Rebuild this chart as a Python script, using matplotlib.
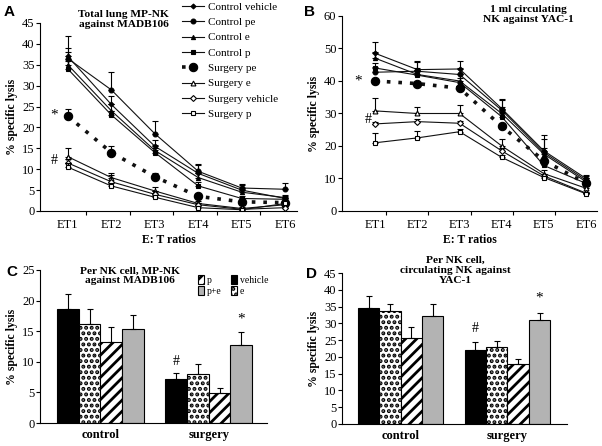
import numpy as np
import matplotlib
matplotlib.use('Agg')
import matplotlib.pyplot as plt

plt.rcParams['font.family'] = ['Liberation Serif', 'DejaVu Serif']
plt.rcParams['hatch.linewidth'] = 2.0

# ---- data -----------------------------------------------------------
et_labels = ['ET1', 'ET2', 'ET3', 'ET4', 'ET5', 'ET6']
series_names = ['Control vehicle', 'Control pe', 'Control e', 'Control p',
                'Surgery pe', 'Surgery e', 'Surgery vehicle', 'Surgery p']

# panel A: total lung MP-NK against MADB106
a_ctrl_vehicle = [37.0, 25.5, 15.5, 9.0, 5.0, 3.0]
a_ctrl_pe = [36.5, 29.0, 18.5, 9.5, 5.5, 5.2]
a_ctrl_e = [35.0, 24.0, 14.5, 8.0, 4.5, 3.2]
a_ctrl_p = [34.0, 23.0, 14.0, 6.0, 3.0, 2.8]
a_surg_pe = [22.7, 14.0, 8.2, 3.5, 2.2, 2.0]
a_surg_e = [13.0, 8.0, 4.8, 1.8, 0.6, 1.5]
a_surg_vehicle = [11.5, 7.0, 4.0, 1.5, 0.4, 0.8]
a_surg_p = [10.5, 6.0, 3.3, 0.8, 0.3, 1.8]
a_err = [[5.0, 2.0, 1.5, 2.0, 1.2, 0.8],
         [2.5, 4.2, 3.0, 1.8, 1.0, 1.6],
         [3.0, 1.5, 1.2, 1.2, 0.8, 0.5],
         [2.0, 1.0, 1.0, 1.0, 0.6, 0.5],
         [1.8, 1.5, 1.0, 0.5, 0.4, 0.3],
         [2.0, 1.2, 1.0, 0.5, 0.3, 0.3],
         [1.0, 1.5, 0.8, 0.5, 0.3, 0.3],
         [1.0, 0.8, 0.5, 0.4, 0.2, 0.3]]

# panel B: 1 ml circulating NK against YAC-1
b_ctrl_vehicle = [48.5, 43.5, 43.7, 31.5, 18.5, 10.0]
b_ctrl_pe = [42.7, 43.0, 42.0, 31.0, 18.0, 9.5]
b_ctrl_e = [47.0, 42.0, 40.0, 30.0, 17.5, 9.0]
b_ctrl_p = [44.0, 41.8, 39.5, 29.0, 14.0, 8.5]
b_surg_pe = [40.0, 39.2, 37.8, 26.0, 15.5, 8.5]
b_surg_e = [30.8, 30.0, 30.0, 20.0, 11.5, 7.0]
b_surg_vehicle = [26.8, 27.5, 27.0, 18.5, 10.8, 5.5]
b_surg_p = [21.0, 22.5, 24.4, 16.5, 10.3, 5.3]
b_err = [[3.5, 2.5, 2.3, 3.0, 5.0, 1.0],
         [1.5, 2.8, 2.0, 3.2, 4.0, 1.2],
         [2.0, 2.0, 2.0, 2.0, 2.0, 1.0],
         [1.5, 1.5, 1.5, 1.5, 1.5, 0.8],
         [0.5, 0.5, 0.5, 0.5, 1.0, 0.5],
         [4.0, 2.0, 2.5, 2.0, 1.0, 0.6],
         [0.5, 0.8, 0.8, 0.8, 0.5, 0.4],
         [3.0, 2.0, 0.8, 0.8, 0.5, 0.3]]

# panels C/D: per NK cell
groups = ['control', 'surgery']
bar_names = ['vehicle', 'e', 'p', 'p+e']
c_vals = {'vehicle': [18.6, 7.2], 'e': [16.1, 8.0], 'p': [13.2, 4.9], 'p+e': [15.4, 12.8]}
c_errs = {'vehicle': [2.4, 0.9], 'e': [2.5, 1.6], 'p': [2.5, 0.9], 'p+e': [2.3, 2.1]}
d_vals = {'vehicle': [34.6, 22.2], 'e': [33.6, 22.9], 'p': [25.7, 17.8], 'p+e': [32.3, 31.0]}
d_errs = {'vehicle': [3.5, 2.3], 'e': [2.3, 1.8], 'p': [3.1, 1.7], 'p+e': [3.5, 2.2]}

# ---- styles ---------------------------------------------------------
line_styles = [
    dict(marker='D', ms=2.5, mfc='black', ls='-', lw=0.8),
    dict(marker='o', ms=3.5, mfc='black', ls='-', lw=0.8),
    dict(marker='^', ms=3.0, mfc='black', ls='-', lw=0.8),
    dict(marker='s', ms=2.8, mfc='black', ls='-', lw=0.8),
    dict(marker='o', ms=6.0, mfc='black', ls=(0, (1, 2.2)), lw=2.6),
    dict(marker='^', ms=3.5, mfc='white', ls='-', lw=0.8),
    dict(marker='D', ms=3.0, mfc='white', ls='-', lw=0.8),
    dict(marker='s', ms=3.5, mfc='white', ls='-', lw=0.8),
]
bar_styles = {
    'vehicle': dict(color='black', hatch=None),
    'e': dict(color='white', hatch='...'),
    'p': dict(color='white', hatch='///'),
    'p+e': dict(color='#b3b3b3', hatch=None),
}

fig = plt.figure(figsize=(6.02, 4.46), dpi=100)
W, H = 602.0, 446.0


def box(x0, x1, ytop, ybot):
    return [x0 / W, 1 - ybot / H, (x1 - x0) / W, (ybot - ytop) / H]


def style_axes(ax):
    for s in ['top', 'right']:
        ax.spines[s].set_visible(False)
    ax.tick_params(axis='y', labelsize=9, length=3, width=0.8, pad=1)
    ax.tick_params(axis='x', labelsize=9, width=0.8)
    ax.set_ylabel('% specific lysis', fontsize=8.5, fontweight='bold', labelpad=3)


def line_panel(ax, data, errs, ylim, yticks, xlim, tick_off):
    x = np.arange(1, 7)
    handles = []
    for vals, err, st in zip(data, errs, line_styles):
        ax.errorbar(x, vals, yerr=[np.zeros(6), err], fmt='none', ecolor='black',
                    elinewidth=0.8, capsize=2.2, capthick=0.8)
        h, = ax.plot(x, vals, color='#111111', mec='black', mew=0.8, **st)
        handles.append(h)
    ax.set_xlim(*xlim)
    ax.set_ylim(*ylim)
    ax.set_yticks(yticks)
    ax.set_xticks(x)
    ax.set_xticklabels(et_labels)
    ax.tick_params(axis='x', length=0, pad=6)
    ax.set_xticks(np.arange(1, 6) + tick_off, minor=True)
    ax.tick_params(axis='x', which='minor', length=3, width=0.8)
    style_axes(ax)
    ax.set_xlabel('E: T ratios', fontsize=8.5, fontweight='bold', labelpad=2)
    return handles


def bar_panel(ax, vals, errs, ylim, yticks, xlim):
    centers = np.arange(len(groups))
    w = 0.2
    handles = {}
    for i, name in enumerate(bar_names):
        st = bar_styles[name]
        xs = centers + (i - 1.5) * w
        b = ax.bar(xs, vals[name], width=w, color=st['color'], edgecolor='black',
                   linewidth=0.8, hatch=st['hatch'],
                   yerr=[np.zeros(2), errs[name]],
                   error_kw=dict(ecolor='black', elinewidth=0.8, capsize=2.5, capthick=0.8))
        handles[name] = b
    ax.set_xlim(*xlim)
    ax.set_ylim(*ylim)
    ax.set_yticks(yticks)
    ax.set_xticks(centers)
    ax.set_xticklabels(groups, fontweight='bold', fontsize=8.5)
    ax.tick_params(axis='x', length=0, pad=4)
    style_axes(ax)
    return handles


# A
axA = fig.add_axes(box(40, 297, 23, 211))
hA = line_panel(axA, [a_ctrl_vehicle, a_ctrl_pe, a_ctrl_e, a_ctrl_p,
                      a_surg_pe, a_surg_e, a_surg_vehicle, a_surg_p],
                a_err, (0, 45), range(0, 46, 5), (0.36, 6.27), 0.42)
axA.text(2.28, 48.0, 'Total lung MP-NK\nagainst MADB106', ha='center', va='top',
         fontsize=8.2, fontweight='bold', linespacing=1.1)
axA.text(0.68, 23, '*', ha='center', va='center', fontsize=11)
axA.text(0.68, 12, '#', ha='center', va='center', fontsize=10)
fig.legend(hA, series_names, loc='upper left', bbox_to_anchor=(182 / W, 1 - 2 / H),
           frameon=False, fontsize=8, handlelength=2.0, handletextpad=0.3,
           labelspacing=0.5, borderpad=0, borderaxespad=0)

# B
axB = fig.add_axes(box(342, 597, 16, 211))
line_panel(axB, [b_ctrl_vehicle, b_ctrl_pe, b_ctrl_e, b_ctrl_p,
                 b_surg_pe, b_surg_e, b_surg_vehicle, b_surg_p],
           b_err, (0, 60), range(0, 61, 10), (0.21, 6.26), 0.26)
axB.text(4.64, 63.4, '1 ml circulating\nNK against YAC-1', ha='center', va='top',
         fontsize=8.2, fontweight='bold', linespacing=1.1)
axB.text(0.6, 40, '*', ha='center', va='center', fontsize=11)
axB.text(0.83, 28, '#', ha='center', va='center', fontsize=10)

# C
axC = fig.add_axes(box(40, 267, 270, 423))
hC = bar_panel(axC, c_vals, c_errs, (0, 25), range(0, 26, 5), (-0.557, 1.538))
axC.text(0.27, 25.6, 'Per NK cell, MP-NK\nagainst MADB106', ha='center', va='top',
         fontsize=8.2, fontweight='bold', linespacing=1.1)
axC.text(1.3, 17.0, '*', ha='center', va='center', fontsize=11)
axC.text(0.7, 10.0, '#', ha='center', va='center', fontsize=10)
axC.legend([hC['p'], hC['p+e'], hC['vehicle'], hC['e']], ['p', 'p+e', 'vehicle', 'e'],
           ncol=2, loc='upper left', bbox_to_anchor=(0.675, 1.0), frameon=False,
           fontsize=7, handlelength=0.6, handleheight=1.0, handletextpad=0.3,
           columnspacing=1.0, labelspacing=0.15, borderpad=0)

# D
axD = fig.add_axes(box(342, 567, 273, 424))
bar_panel(axD, d_vals, d_errs, (0, 45), range(0, 46, 5), (-0.548, 1.557))
axD.text(0.51, 50.0, 'Per NK cell,\ncirculating NK against\nYAC-1', ha='center', va='top',
         fontsize=8.2, fontweight='bold', linespacing=1.1)
axD.text(1.3, 37.5, '*', ha='center', va='center', fontsize=11)
axD.text(0.7, 28.5, '#', ha='center', va='center', fontsize=10)

# panel letters
for lab, (px, py) in zip('ABCD', [(4, 12), (304, 12), (6, 272), (306, 274)]):
    fig.text(px / W, 1 - py / H, lab, fontsize=11, fontweight='bold',
             family='Liberation Sans', ha='left', va='center')

fig.savefig('out.png', dpi=100)
